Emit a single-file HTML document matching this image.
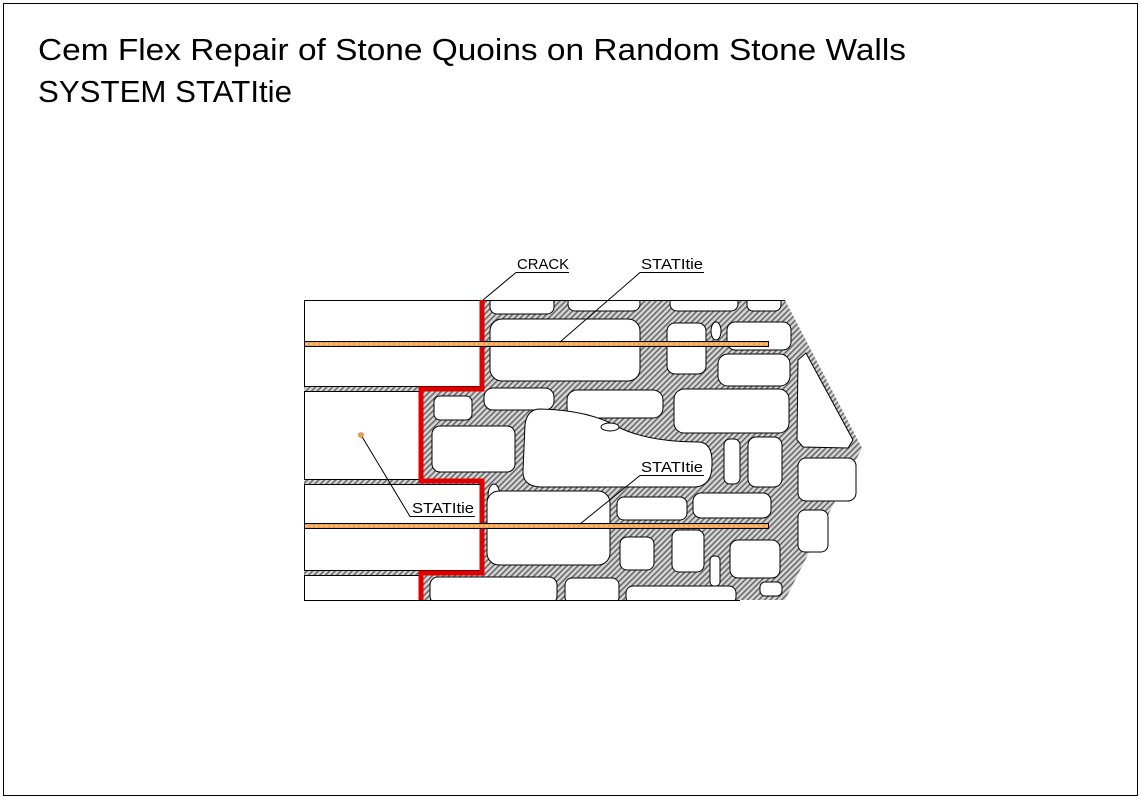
<!DOCTYPE html>
<html><head><meta charset="utf-8"><style>
html,body{margin:0;padding:0;background:#fff;}
svg{display:block;}
</style></head><body>
<svg width="1141" height="799" viewBox="0 0 1141 799" xmlns="http://www.w3.org/2000/svg">
<defs>
<pattern id="h" patternUnits="userSpaceOnUse" width="4" height="4" patternTransform="rotate(-45)">
<rect width="4" height="4" fill="#d6d6d6"/>
<rect width="4" height="1.6" fill="#6a6a6a"/>
</pattern>
</defs>
<rect x="3.5" y="3.5" width="1134" height="792" fill="#fff" stroke="#000" stroke-width="1"/>
<text x="38" y="60" font-family="Liberation Sans, sans-serif" font-size="31" textLength="868" lengthAdjust="spacingAndGlyphs">Cem Flex Repair of Stone Quoins on Random Stone Walls</text>
<text x="38" y="102" font-family="Liberation Sans, sans-serif" font-size="31" textLength="254" lengthAdjust="spacingAndGlyphs">SYSTEM STATItie</text>

<polygon points="420,300 785,300 862,448 785,600 420,600" fill="url(#h)"/>
<rect x="304" y="386" width="180" height="6" fill="url(#h)"/>
<rect x="304" y="479" width="180" height="6" fill="url(#h)"/>
<rect x="304" y="570" width="180" height="6" fill="url(#h)"/>

<g fill="#fff" stroke="#000" stroke-width="1">
<rect x="304.5" y="300.5" width="176" height="41"/>
<rect x="304.5" y="346.5" width="176" height="40"/>
<rect x="304.5" y="391.5" width="115" height="88"/>
<rect x="304.5" y="484.5" width="176" height="39"/>
<rect x="304.5" y="528.5" width="176" height="42"/>
<rect x="304.5" y="575.5" width="115" height="25"/>
</g>

<g fill="#fff" stroke="#000" stroke-width="1">
<rect x="490" y="296" width="64" height="18" rx="7"/>
<rect x="568" y="296" width="72" height="15" rx="7"/>
<rect x="670" y="296" width="68" height="15" rx="7"/>
<rect x="747" y="296" width="34" height="15" rx="6"/>
<rect x="490" y="319" width="150" height="62" rx="12"/>
<rect x="667" y="323" width="39" height="51" rx="8"/>
<ellipse cx="716" cy="331" rx="5" ry="9"/>
<rect x="727" y="322" width="64" height="28" rx="8"/>
<rect x="718" y="354" width="72" height="32" rx="10"/>
<polygon points="798,360 806,353 853,440 848,448 803,447 797,440"/>
<rect x="484" y="388" width="70" height="22" rx="9"/>
<rect x="567" y="390" width="96" height="28" rx="10"/>
<rect x="674" y="389" width="115" height="44" rx="10"/>
<rect x="434" y="396" width="38" height="24" rx="6"/>
<rect x="432" y="426" width="83" height="46" rx="8"/>
<path d="M540,409 Q590,410 620,428 Q650,442 700,442 Q713,444 712,465 Q712,486 695,487 L540,487 Q522,486 523,470 L525,425 Q527,409 540,409Z"/>
<ellipse cx="610" cy="427" rx="9" ry="4"/>
<rect x="724" y="439" width="16" height="45" rx="6"/>
<rect x="748" y="437" width="34" height="50" rx="8"/>
<rect x="798" y="458" width="58" height="43" rx="8"/>
<ellipse cx="494" cy="496" rx="6" ry="12"/>
<rect x="487" y="491" width="123" height="74" rx="12"/>
<rect x="617" y="497" width="70" height="23" rx="7"/>
<rect x="693" y="493" width="78" height="25" rx="8"/>
<rect x="798" y="510" width="30" height="42" rx="7"/>
<rect x="620" y="537" width="34" height="33" rx="7"/>
<rect x="672" y="530" width="32" height="42" rx="7"/>
<rect x="730" y="540" width="50" height="38" rx="8"/>
<rect x="710" y="556" width="10" height="30" rx="4"/>
<rect x="760" y="582" width="22" height="14" rx="5"/>
<rect x="430" y="577" width="127" height="27" rx="8"/>
<rect x="565" y="578" width="54" height="26" rx="7"/>
<rect x="626" y="586" width="110" height="18" rx="7"/>
</g>
<line x1="480" y1="300.5" x2="785" y2="300.5" stroke="#000"/>
<line x1="420" y1="600.5" x2="740" y2="600.5" stroke="#000"/>
<rect x="420" y="601" width="450" height="10" fill="#fff"/>
<rect x="484" y="290" width="320" height="10" fill="#fff"/>

<polyline points="482,300 482,389 421,389 421,481 482,481 482,573 421,573 421,600" fill="none" stroke="#e00000" stroke-width="5"/>

<rect x="304.5" y="341.5" width="464" height="5" fill="#f0a050" stroke="#000" stroke-width="1"/>
<line x1="305" y1="344" x2="768" y2="344" stroke="#ffe0b0" stroke-width="1" stroke-dasharray="3,2"/>
<rect x="304.5" y="523.5" width="464" height="5" fill="#f0a050" stroke="#000" stroke-width="1"/>
<line x1="305" y1="526" x2="768" y2="526" stroke="#ffe0b0" stroke-width="1" stroke-dasharray="3,2"/>

<g font-family="Liberation Sans, sans-serif" font-size="15" fill="#000">
<text x="517" y="269" textLength="52" lengthAdjust="spacingAndGlyphs">CRACK</text>
<text x="641" y="269" textLength="62" lengthAdjust="spacingAndGlyphs">STATItie</text>
<text x="641" y="472" textLength="62" lengthAdjust="spacingAndGlyphs">STATItie</text>
<text x="412" y="513" textLength="62" lengthAdjust="spacingAndGlyphs">STATItie</text>
</g>
<g stroke="#000" stroke-width="1" fill="none">
<polyline points="569,272.5 516,272.5 483,300"/>
<polyline points="704,272.5 640,272.5 560,342"/>
<polyline points="704,475.5 640,475.5 580,524"/>
<polyline points="475,516.5 410,516.5 361,435"/>
</g>
<circle cx="361" cy="435" r="2.5" fill="#f0a050" stroke="#c07030" stroke-width="0.6"/>
</svg>
</body></html>
